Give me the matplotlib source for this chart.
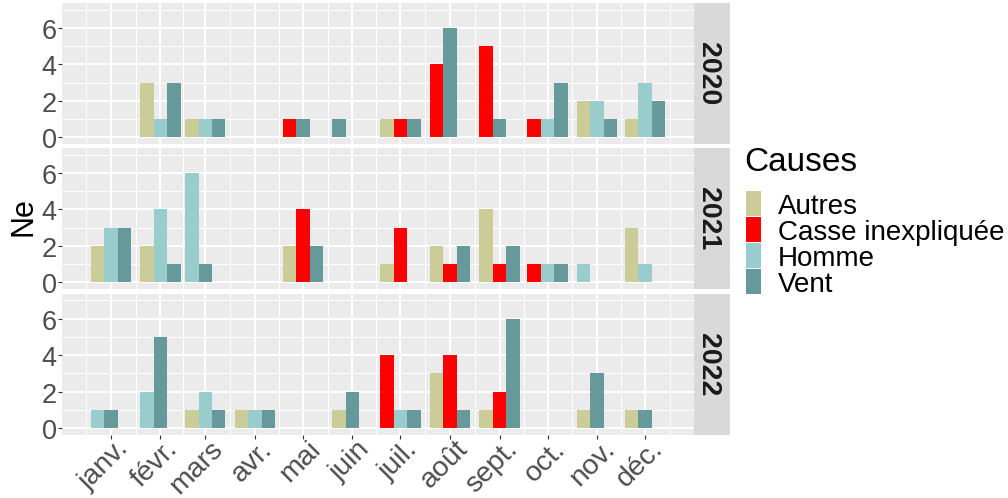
import matplotlib

matplotlib.use("Agg")
import matplotlib.pyplot as plt
import numpy as np
from matplotlib.patches import Rectangle
from matplotlib.transforms import ScaledTranslation

plt.rcParams["font.family"] = ["Liberation Sans", "DejaVu Sans"]

FIG_W, FIG_H = 1008, 498

years = ["2020", "2021", "2022"]
months = ["janv.", "févr.", "mars", "avr.", "mai", "juin",
          "juil.", "août", "sept.", "oct.", "nov.", "déc."]
causes = ["Autres", "Casse inexpliquée", "Homme", "Vent"]
cause_colors = ["#CCCC99", "#FF0000", "#99CCCC", "#669999"]

# counts per month (0 = no record for that cause)
autres_2020 = [0, 3, 1, 0, 0, 0, 1, 0, 0, 0, 2, 1]
casse_2020 = [0, 0, 0, 0, 1, 0, 1, 4, 5, 1, 0, 0]
homme_2020 = [0, 1, 1, 0, 0, 0, 0, 0, 0, 1, 2, 3]
vent_2020 = [0, 3, 1, 0, 1, 1, 1, 6, 1, 3, 1, 2]

autres_2021 = [2, 2, 0, 0, 2, 0, 1, 2, 4, 0, 0, 3]
casse_2021 = [0, 0, 0, 0, 4, 0, 3, 1, 1, 1, 0, 0]
homme_2021 = [3, 4, 6, 0, 0, 0, 0, 0, 0, 1, 1, 1]
vent_2021 = [3, 1, 1, 0, 2, 0, 0, 2, 2, 1, 0, 0]

autres_2022 = [0, 0, 1, 1, 0, 1, 0, 3, 1, 0, 1, 1]
casse_2022 = [0, 0, 0, 0, 0, 0, 4, 4, 2, 0, 0, 0]
homme_2022 = [1, 2, 2, 1, 0, 0, 1, 0, 0, 0, 0, 0]
vent_2022 = [1, 5, 1, 1, 0, 2, 1, 1, 6, 0, 3, 1]

counts = {
    "2020": [autres_2020, casse_2020, homme_2020, vent_2020],
    "2021": [autres_2021, casse_2021, homme_2021, vent_2021],
    "2022": [autres_2022, casse_2022, homme_2022, vent_2022],
}

y_major = [0, 2, 4, 6]
y_minor = [1, 3, 5, 7]
y_limits = (-0.37, 7.35)

# month positions on a date axis (days from 1 Jan, non-leap year)
month_starts = np.arange("2021-01", "2022-01", dtype="datetime64[M]").astype("datetime64[D]")
x_days = (month_starts - month_starts[0]).astype(int)
edges = np.arange("2020-12", "2022-02", dtype="datetime64[M]").astype("datetime64[D]")
edge_days = (edges - month_starts[0]).astype(int)
x_minor = (edge_days[:-1] + edge_days[1:]) / 2.0

resolution = np.min(np.diff(x_days))
dodge_width = 0.9 * resolution
n_slots = max(sum(1 for series in counts[y] if series[i] > 0) for y in years for i in range(12))
bar_w = dodge_width / n_slots

lo = x_days[0] - dodge_width / 2
hi = x_days[-1] + dodge_width / 2
pad = 0.05 * (hi - lo)
x_limits = (lo - pad, hi + pad)
x_minor = x_minor[(x_minor > x_limits[0]) & (x_minor < x_limits[1])]


def px_box(left, top, right, bottom):
    return [left / FIG_W, 1 - bottom / FIG_H, (right - left) / FIG_W, (bottom - top) / FIG_H]


fig = plt.figure(figsize=(FIG_W / 100, FIG_H / 100), dpi=100)
xlab_shift = ScaledTranslation(4.5 / 100, 6 / 100, fig.dpi_scale_trans)
ylab_shift = ScaledTranslation(0, -1 / 100, fig.dpi_scale_trans)

panel_left, panel_right, strip_right = 62, 694, 730
panel_tops = [3.3, 148.3, 294.0]
panel_bottoms = [144.0, 289.0, 434.7]

for row, year in enumerate(years):
    ax = fig.add_axes(px_box(panel_left, panel_tops[row], panel_right, panel_bottoms[row]))
    ax.set_facecolor("#EBEBEB")
    for spine in ax.spines.values():
        spine.set_visible(False)

    # dodge: bars present in a month fill the slots from the left
    lefts = {c: [] for c in range(len(causes))}
    heights = {c: [] for c in range(len(causes))}
    for i in range(12):
        slot = 0
        for c, series in enumerate(counts[year]):
            if series[i] > 0:
                lefts[c].append(x_days[i] - dodge_width / 2 + slot * bar_w)
                heights[c].append(series[i])
                slot += 1
    for c in range(len(causes)):
        ax.bar(lefts[c], heights[c], width=bar_w, align="edge",
               color=cause_colors[c], linewidth=0, zorder=3)

    ax.set_xlim(*x_limits)
    ax.set_ylim(*y_limits)
    ax.set_xticks(x_days)
    ax.set_xticks(x_minor, minor=True)
    ax.set_yticks(y_major)
    ax.set_yticks(y_minor, minor=True)
    ax.grid(which="major", color="white", linewidth=1.4, zorder=1)
    ax.grid(which="minor", color="white", linewidth=0.7, zorder=1)
    ax.set_axisbelow(True)

    ax.tick_params(which="minor", length=0)
    ax.tick_params(axis="y", which="major", length=2.7, width=0.8, color="#333333",
                   labelsize=19.5, labelcolor="#4D4D4D", pad=1.0)
    ax.set_yticklabels([str(v) for v in y_major])
    for lab in ax.get_yticklabels():
        lab.set_transform(lab.get_transform() + ylab_shift)
    if row == len(years) - 1:
        ax.tick_params(axis="x", which="major", length=2.7, width=0.8, color="#333333",
                       labelsize=20.5, labelcolor="#4D4D4D", pad=2.5)
        ax.set_xticklabels(months, rotation=45, ha="right", va="top", rotation_mode="anchor")
        for lab in ax.get_xticklabels():
            lab.set_transform(lab.get_transform() + xlab_shift)
    else:
        ax.tick_params(axis="x", which="major", length=0, labelbottom=False)

    strip = fig.add_axes(px_box(panel_right, panel_tops[row], strip_right, panel_bottoms[row]))
    strip.set_facecolor("#D9D9D9")
    strip.set_xticks([])
    strip.set_yticks([])
    for spine in strip.spines.values():
        spine.set_visible(False)
    strip.text(0.5 - 4 / 36, 0.5, year, rotation=-90, ha="center", va="center",
               fontsize=20.5, fontweight="bold", color="#1A1A1A", transform=strip.transAxes)

fig.text(23.5 / FIG_W, 1 - 216.5 / FIG_H, "Ne", rotation=90, ha="center", va="center",
         fontsize=22, color="black")

# legend
fig.text(744 / FIG_W, 1 - 171 / FIG_H, "Causes", ha="left", va="baseline",
         fontsize=24, color="black")
key_top, key_h = 190.0, 26.0
for k, (name, color) in enumerate(zip(causes, cause_colors)):
    top = key_top + k * key_h
    fig.add_artist(Rectangle((746 / FIG_W, 1 - (top + key_h - 0.5) / FIG_H),
                             15 / FIG_W, (key_h - 1) / FIG_H,
                             transform=fig.transFigure, facecolor=color, linewidth=0))
    fig.text(778 / FIG_W, 1 - (top + key_h / 2 + 4) / FIG_H, name, ha="left", va="center",
             fontsize=20, color="black")

fig.savefig("out.png", dpi=100)
